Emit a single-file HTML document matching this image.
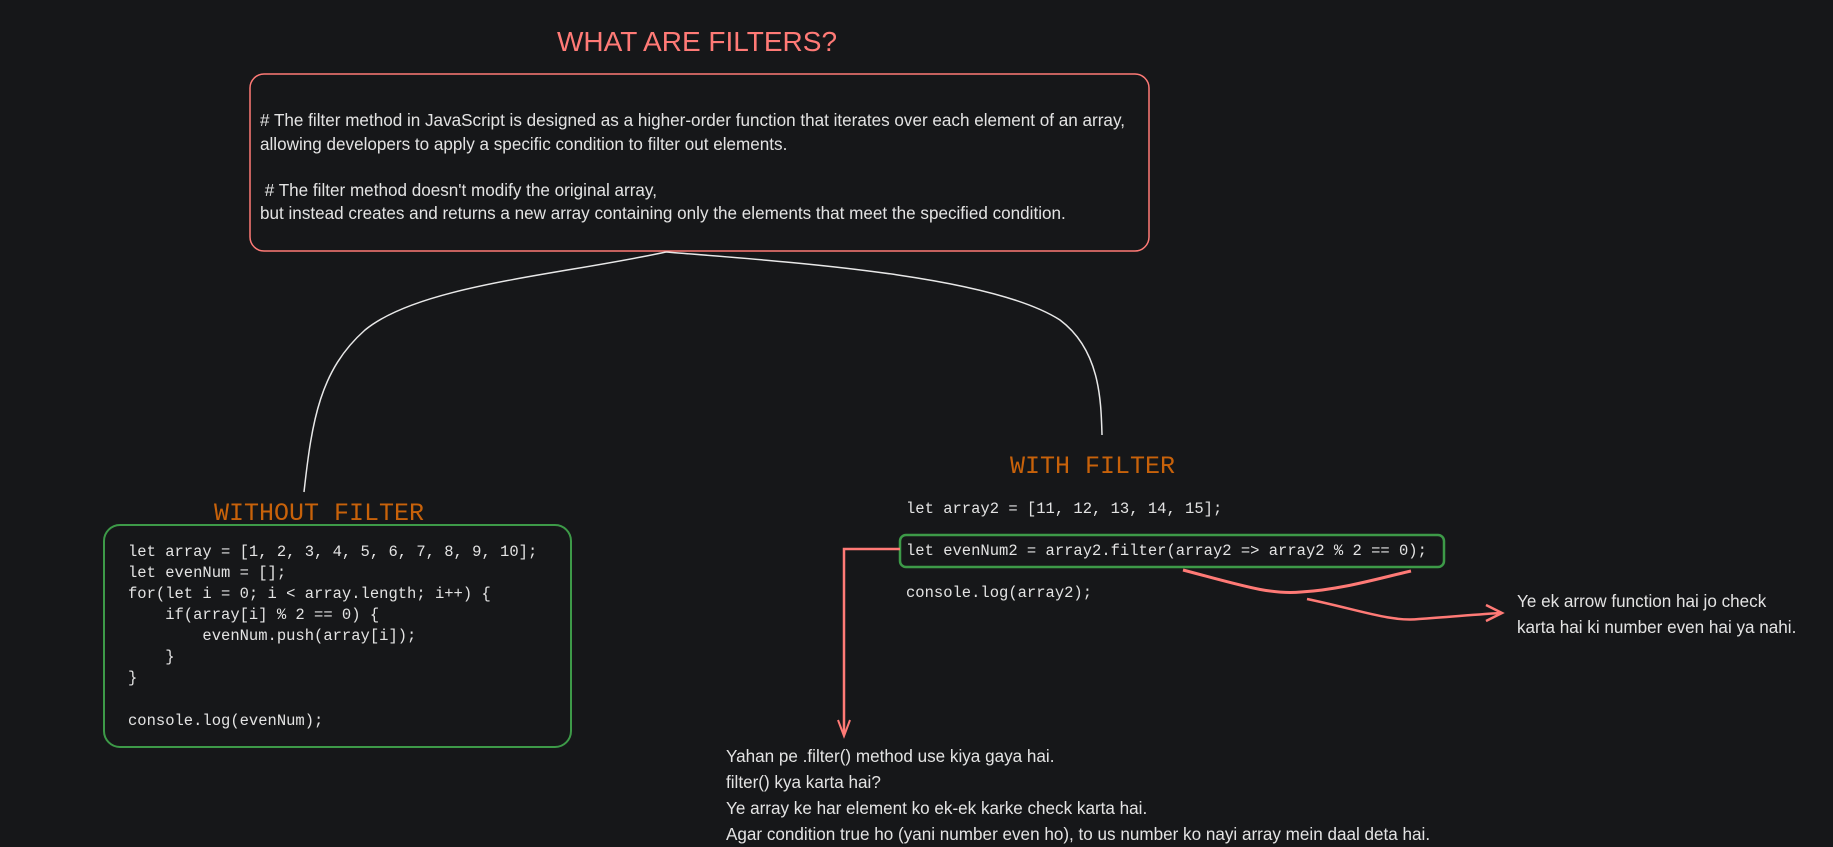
<!DOCTYPE html>
<html><head><meta charset="utf-8"><style>
html,body{margin:0;padding:0;background:#161719;}
svg{display:block}
.p{font-family:"Liberation Sans",sans-serif;font-size:17.1px;fill:#e3e3e3}
.m{font-family:"Liberation Mono",monospace;font-size:15.5px;fill:#e3e3e3}
.h{font-family:"Liberation Mono",monospace;font-size:25px;fill:#c8620a}
</style></head><body>
<svg width="1833" height="847" viewBox="0 0 1833 847" xmlns="http://www.w3.org/2000/svg">
<rect width="1833" height="847" fill="#161719"/>
<text x="697" y="51" text-anchor="middle" font-family="Liberation Sans,sans-serif" font-size="28" fill="#ff7a76">WHAT ARE FILTERS?</text>
<rect x="250" y="74" width="899" height="177" rx="14" fill="none" stroke="#ff7a76" stroke-width="1.5"/>
<text class="p" x="260" y="126"># The filter method in JavaScript is designed as a higher-order function that iterates over each element of an array,</text>
<text class="p" x="260" y="150">allowing developers to apply a specific condition to filter out elements.</text>
<text class="p" x="260" y="196" xml:space="preserve"> # The filter method doesn't modify the original array,</text>
<text class="p" x="260" y="219">but instead creates and returns a new array containing only the elements that meet the specified condition.</text>
<path d="M666 252 C560 275 420 285 365 330 C320 370 312 420 304 492" fill="none" stroke="#e8e8e8" stroke-width="1.5"/>
<path d="M666 252 C790 262 990 275 1060 320 C1100 350 1101 400 1102 435" fill="none" stroke="#e8e8e8" stroke-width="1.5"/>
<text class="h" x="214" y="520">WITHOUT FILTER</text>
<rect x="104" y="525" width="467" height="222" rx="16" fill="none" stroke="#3d9a48" stroke-width="2"/>
<text class="m" x="128" y="556">let array = [1, 2, 3, 4, 5, 6, 7, 8, 9, 10];</text>
<text class="m" x="128" y="577">let evenNum = [];</text>
<text class="m" x="128" y="598">for(let i = 0; i &lt; array.length; i++) {</text>
<text class="m" x="128" y="619" xml:space="preserve">    if(array[i] % 2 == 0) {</text>
<text class="m" x="128" y="640" xml:space="preserve">        evenNum.push(array[i]);</text>
<text class="m" x="128" y="661" xml:space="preserve">    }</text>
<text class="m" x="128" y="682">}</text>
<text class="m" x="128" y="725">console.log(evenNum);</text>
<text class="h" x="1010" y="473">WITH FILTER</text>
<text class="m" x="906" y="513">let array2 = [11, 12, 13, 14, 15];</text>
<rect x="900" y="535" width="544" height="32" rx="6" fill="none" stroke="#3d9a48" stroke-width="2.5"/>
<text class="m" x="906" y="555">let evenNum2 = array2.filter(array2 =&gt; array2 % 2 == 0);</text>
<text class="m" x="906" y="597">console.log(array2);</text>
<path d="M900 549 L844 549 L844 734" fill="none" stroke="#ff7a76" stroke-width="2.5"/>
<path d="M838 720 L844 736 L850 720" fill="none" stroke="#ff7a76" stroke-width="2"/>
<path d="M1183 570 C1240 585 1270 595 1301 592 C1340 590 1380 578 1411 571" fill="none" stroke="#ff7a76" stroke-width="3"/>
<path d="M1307 599 C1360 610 1390 622 1419 619 C1450 617 1480 614 1502 613" fill="none" stroke="#ff7a76" stroke-width="2.5"/>
<path d="M1486 605 L1502 613 L1486 621" fill="none" stroke="#ff7a76" stroke-width="2.5"/>
<text class="p" x="1517" y="607">Ye ek arrow function hai jo check</text>
<text class="p" x="1517" y="633">karta hai ki number even hai ya nahi.</text>
<text class="p" x="726" y="762">Yahan pe .filter() method use kiya gaya hai.</text>
<text class="p" x="726" y="788">filter() kya karta hai?</text>
<text class="p" x="726" y="814">Ye array ke har element ko ek-ek karke check karta hai.</text>
<text class="p" x="726" y="840">Agar condition true ho (yani number even ho), to us number ko nayi array mein daal deta hai.</text>
</svg>
</body></html>
